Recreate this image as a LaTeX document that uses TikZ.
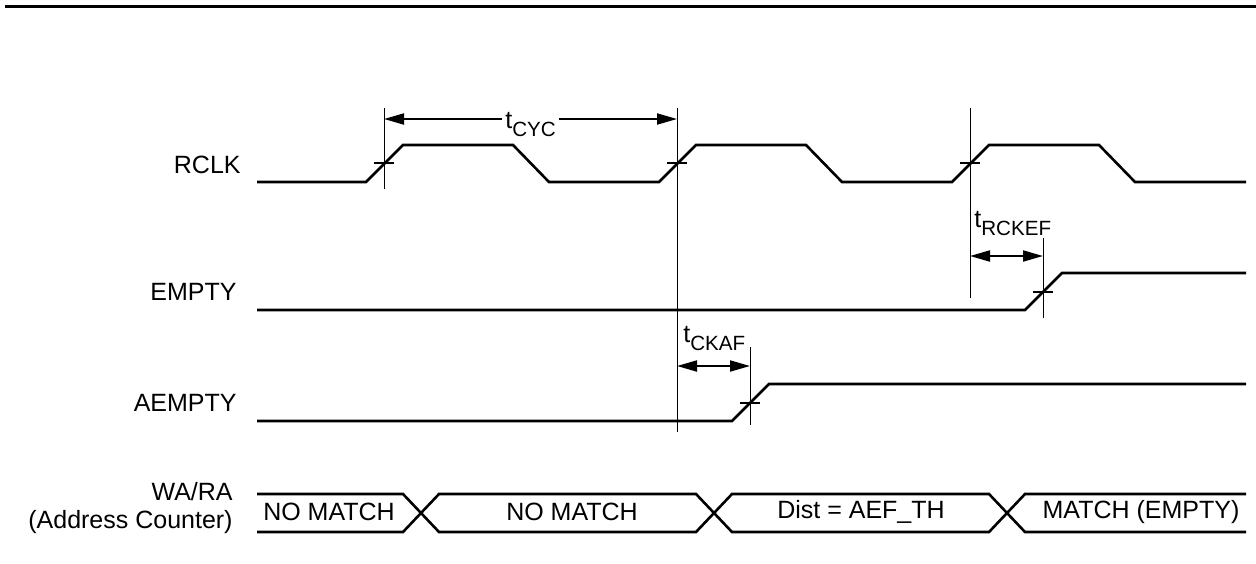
\documentclass[tikz,border=0pt]{standalone}
\usepackage{fontspec}
\setmainfont{Liberation Sans}
\usepackage{tikz}
\usetikzlibrary{arrows.meta}
\tikzset{
  sig/.style={line width=1.3pt, line join=miter},
  tick/.style={line width=1pt},
  tline/.style={line width=0.5pt},
  darr/.style={{Triangle[length=10pt,width=5.5pt]}-{Triangle[length=10pt,width=5.5pt]}, line width=1pt},
  slabel/.style={anchor=east, inner sep=0pt, font=\fontsize{12.5}{15}\selectfont},
  tlabel/.style={anchor=base west, inner sep=1.5pt, font=\fontsize{12.5}{15}\selectfont},
  bval/.style={inner sep=0pt, font=\fontsize{12.5}{15}\selectfont}
}
\newcommand{\tname}[1]{t\raisebox{-4.2pt}{\fontsize{10.3}{12}\selectfont #1}}

\begin{document}
\begin{tikzpicture}[x=0.5pt,y=-0.5pt]
\useasboundingbox (0,0) rectangle (1256,563);
\draw[line width=1.6pt] (5,6.5) -- (1256,6.5);

\node[slabel] (rclk) at (241,165) {RCLK};
\node[slabel] (empty) at (237,292) {EMPTY};
\node[slabel] (aempty) at (237,403) {AEMPTY};
\node[slabel] (wara) at (233,492) {WA/RA};
\node[slabel] (addr) at (233,522) {(Address Counter)};

\draw[sig] (257,182) foreach \v in {384,677,970} { -- (\v-18,182) -- (\v+19,145) -- (\v+129,145) -- (\v+165,182) } -- (1246,182);
\foreach \v in {384,677,970} \draw[tick] (\v-10,163) -- (\v+10,163);
\draw[sig] (257,310) -- (1025,310) -- (1062,273) -- (1246,273);
\draw[tick] (1033,292) -- (1053,292);
\draw[sig] (257,421) -- (732,421) -- (769,384) -- (1246,384);
\draw[tick] (740,403) -- (760,403);

\coordinate (v1) at (384,108);
\coordinate (v2) at (677,108);
\coordinate (v3) at (970,108);
\draw[tline] (v1) -- (384,189);
\draw[tline] (v2) -- (677,432);
\draw[tline] (v3) -- (970,298);
\draw[tline] (1043,238) -- (1043,318);
\draw[tline] (750,347) -- (750,425);

\draw[darr] (384,119) -- (677,119);
\node[tlabel, fill=white] (tcyc) at (502,128) {\tname{CYC}};
\draw[darr] (970,256) -- (1043,256);
\node[tlabel] (trckef) at (971,227) {\tname{RCKEF}};
\draw[darr] (677,366) -- (750,366);
\node[tlabel] (tckaf) at (680,342) {\tname{CKAF}};

\draw[sig] (257,494) -- (403,494) -- (421,513) -- (403,532) -- (257,532);
\foreach \a/\b in {421/714,714/1007}
  \draw[sig] (\a,513) -- (\a+18,494) -- (\b-18,494) -- (\b,513) -- (\b-18,532) -- (\a+18,532) -- cycle;
\draw[sig] (1246,494) -- (1025,494) -- (1007,513) -- (1025,532) -- (1246,532);

\node[bval] (b1) at (329,512) {NO MATCH};
\node[bval] (b2) at (572,512) {NO MATCH};
\node[bval] (b3) at (861,512) {Dist = AEF\_TH};
\node[bval] (b4) at (1141,512) {MATCH (EMPTY)};
\end{tikzpicture}
\end{document}
